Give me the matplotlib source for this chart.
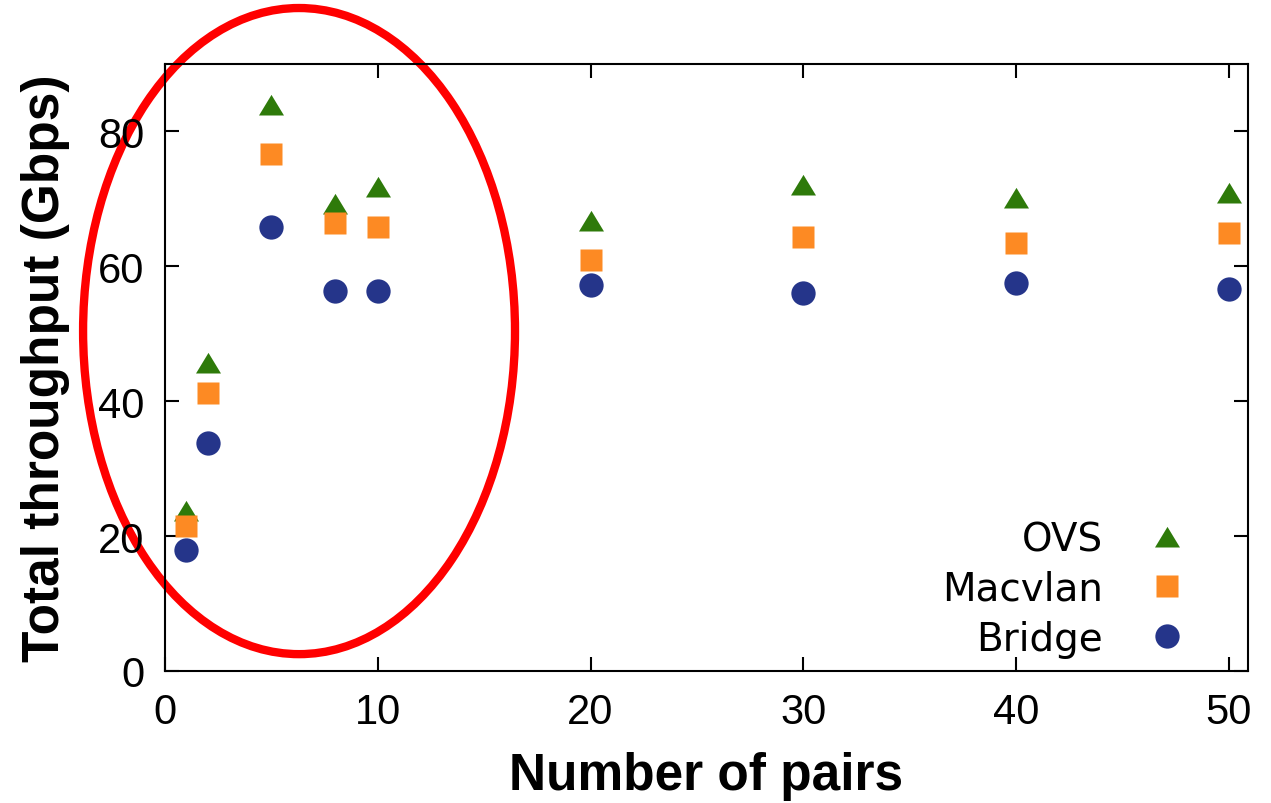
import matplotlib
matplotlib.use("Agg")
import matplotlib.pyplot as plt
from matplotlib.patches import Ellipse

plt.rcParams["font.family"] = ["Liberation Sans", "DejaVu Sans"]

pairs = [1, 2, 5, 8, 10, 20, 30, 40, 50]
ovs = [23.7, 45.6, 83.9, 69.3, 71.7, 66.7, 72.0, 70.2, 70.8]
macvlan = [21.5, 41.2, 76.6, 66.4, 65.8, 60.9, 64.3, 63.4, 65.0]
bridge = [17.9, 33.8, 65.9, 56.3, 56.3, 57.2, 56.0, 57.5, 56.7]

# flatter triangle, like the gnuplot one
tri = [(-1, -0.8), (1, -0.8), (0, 0.85), (-1, -0.8)]

fig = plt.figure(figsize=(12.71, 8.04), dpi=100)
ax = fig.add_axes([165 / 1271, 1 - 672 / 804, (1248 - 165) / 1271, (672 - 65) / 804])

ax.plot(pairs, ovs, linestyle="none", marker=tri, ms=18, color="#2e7a0a", mec="none", label="OVS")
ax.plot(pairs, macvlan, linestyle="none", marker="s", ms=16.5, color="#fd8a23", mec="none", label="Macvlan")
ax.plot(pairs, bridge, linestyle="none", marker="o", ms=17.5, color="#25358a", mec="none", label="Bridge")

ax.set_xlim(0, 50.9)
ax.set_ylim(0, 90)
ax.set_xticks([0, 10, 20, 30, 40, 50])
ax.set_yticks([0, 20, 40, 60, 80])
ax.tick_params(direction="in", length=10, width=1.5, labelsize=30, top=True, right=True, pad=15)
for s in ax.spines.values():
    s.set_linewidth(1.5)

ax.set_xlabel("Number of pairs", fontsize=37, fontweight="bold", labelpad=14)
ax.set_ylabel("Total throughput (Gbps)", fontsize=37, fontweight="bold", labelpad=20)

leg = ax.legend(loc="lower right", bbox_to_anchor=(0.943, 0.022), frameon=False, markerfirst=False,
                prop={"family": "DejaVu Sans", "size": 28}, borderpad=0, borderaxespad=0,
                handlelength=1.0, handletextpad=1.15, labelspacing=0.3)

# red ellipse highlighting small pair counts
ell = Ellipse((6.3, 50.4), width=20.3, height=95.8, fill=False, edgecolor="#ff0000",
              linewidth=6, clip_on=False)
ax.add_patch(ell)

fig.savefig("out.png", dpi=100)
